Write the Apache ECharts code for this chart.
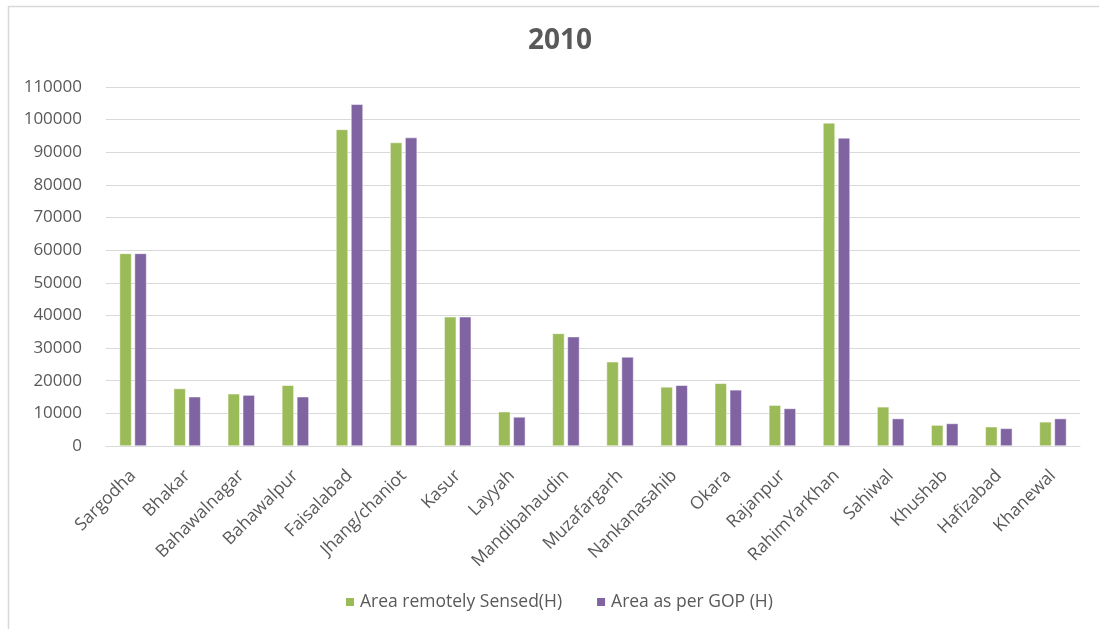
<!DOCTYPE html>
<html>
<head>
<meta charset="utf-8">
<script src="https://cdn.jsdelivr.net/npm/echarts@6/dist/echarts.min.js"></script>
<style>
  html, body { margin: 0; padding: 0; background: #ffffff; }
  #chart { width: 1099px; height: 629px; }
</style>
</head>
<body>
<div id="chart"></div>
<script>
// District-wise cultivated area for 2010
const districts = [
  'Sargodha', 'Bhakar', 'Bahawalnagar', 'Bahawalpur', 'Faisalabad', 'Jhang/chaniot',
  'Kasur', 'Layyah', 'Mandibahaudin', 'Muzafargarh', 'Nankanasahib', 'Okara',
  'Rajanpur', 'RahimYarKhan', 'Sahiwal', 'Khushab', 'Hafizabad', 'Khanewal'
];
const remotelySensed = [
  59000, 17600, 16000, 18600, 97000, 93000,
  39600, 10500, 34500, 25800, 18100, 19200,
  12500, 99000, 12000, 6400, 5900, 7400
];
const asPerGOP = [
  59000, 15100, 15600, 15100, 104700, 94500,
  39600, 8900, 33500, 27300, 18600, 17200,
  11500, 94400, 8400, 6900, 5400, 8400
];
const seriesNames = ['Area remotely Sensed(H)', 'Area as per GOP (H)'];
const chartTitle = '2010';

const textColor = '#595959';
const font = '"Open Sans", "Liberation Sans", sans-serif';

const chart = echarts.init(document.getElementById('chart'), null, { renderer: 'canvas' });
chart.setOption({
  backgroundColor: '#ffffff',
  animation: false,
  graphic: [{
    type: 'rect',
    silent: true,
    shape: { x: 8.5, y: 6.5, width: 1200, height: 700 },
    style: { fill: 'none', stroke: '#d9d9d9', lineWidth: 1.5 }
  }],
  title: {
    text: chartTitle,
    left: 555,
    textAlign: 'center',
    top: 22,
    textStyle: { color: textColor, fontSize: 28, fontWeight: 'bold', fontFamily: font }
  },
  legend: {
    top: 588,
    left: 339,
    itemWidth: 10,
    itemHeight: 10,
    itemGap: 33,
    icon: 'rect',
    textStyle: { color: textColor, fontSize: 17.5, fontFamily: font }
  },
  grid: { left: 106, right: 19, top: 87, bottom: 183, containLabel: false },
  xAxis: {
    type: 'category',
    data: districts,
    axisLine: { lineStyle: { color: '#d9d9d9', width: 1 } },
    axisTick: { show: false },
    axisLabel: {
      rotate: 45,
      interval: 0,
      color: textColor,
      fontSize: 17.5,
      fontFamily: font,
      margin: 27
    }
  },
  yAxis: {
    type: 'value',
    min: 0,
    max: 110000,
    interval: 10000,
    axisLine: { show: false },
    axisTick: { show: false },
    splitLine: { lineStyle: { color: '#d9d9d9', width: 1 } },
    axisLabel: {
      color: textColor,
      fontSize: 17,
      fontFamily: font,
      margin: 24,
      formatter: (v) => String(v)
    }
  },
  series: [
    {
      name: seriesNames[0],
      type: 'bar',
      data: remotelySensed,
      barWidth: 12,
      barGap: '25%',
      itemStyle: { color: '#9bbb59', borderColor: '#ffffff', borderWidth: 0.5 }
    },
    {
      name: seriesNames[1],
      type: 'bar',
      data: asPerGOP,
      barWidth: 12,
      barGap: '25%',
      itemStyle: { color: '#8064a2', borderColor: '#ffffff', borderWidth: 0.5 }
    }
  ]
});
</script>
</body>
</html>
